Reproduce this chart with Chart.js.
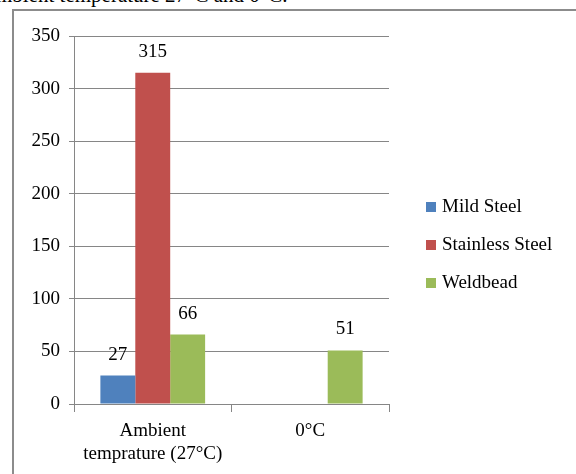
<!DOCTYPE html>
<html>
<head>
<meta charset="utf-8">
<script src="https://cdn.jsdelivr.net/npm/chart.js@4/dist/chart.umd.min.js"></script>
<style>
  html, body { margin: 0; padding: 0; background: #fff; overflow: hidden; }
  body { width: 576px; height: 474px; position: relative; }
  #caption {
    position: absolute; left: -4px; top: -17px; white-space: nowrap;
    font: 21px "Liberation Serif", serif; color: #000;
  }
  #frame {
    position: absolute; left: 12px; top: 9px; width: 600px; height: 500px;
    border: 2px solid #8c8c8c; box-sizing: border-box;
  }
  #wrap { position: absolute; left: 0; top: 0; width: 576px; height: 474px; }
</style>
</head>
<body>
<div id="caption">mbient temperature 27°C and 0°C.</div>
<div id="frame"></div>
<div id="wrap"><canvas id="chart"></canvas></div>
<script>
// categories and series
const categories = [[`Ambient`, `temprature (27°C)`], `0°C`];
const seriesNames = [`Mild Steel`, `Stainless Steel`, `Weldbead`];
const mildSteel = [27, null];
const stainlessSteel = [315, null];
const weldbead = [66, 51];
const seriesColors = [`#4f81bd`, `#c0504d`, `#9bbb59`];
const yTicks = [0, 50, 100, 150, 200, 250, 300, 350];

const serif = `"Liberation Serif", "Times New Roman", serif`;

// value labels above each bar
const valueLabels = {
    id: `valueLabels`,
    afterDatasetsDraw(chart) {
        const ctx = chart.ctx;
        ctx.save();
        ctx.font = `19px ${serif}`;
        ctx.fillStyle = `#000`;
        ctx.textAlign = `center`;
        ctx.textBaseline = `middle`;
        chart.data.datasets.forEach((ds, i) => {
            chart.getDatasetMeta(i).data.forEach((bar, j) => {
                if (ds.data[j] == null) return;
                ctx.fillText(String(ds.data[j]), bar.x, bar.y - 21);
            });
        });
        ctx.restore();
    }
};

// legend drawn on the right side
const sideLegend = {
    id: `sideLegend`,
    afterDraw(chart) {
        const ctx = chart.ctx;
        ctx.save();
        ctx.font = `19px ${serif}`;
        ctx.textBaseline = `middle`;
        chart.data.datasets.forEach((ds, i) => {
            const y = 207 + i * 38;
            ctx.fillStyle = ds.backgroundColor;
            ctx.fillRect(426, y - 5, 10, 10);
            ctx.fillStyle = `#000`;
            ctx.fillText(ds.label, 442, y);
        });
        ctx.restore();
    }
};

const datasets = [mildSteel, stainlessSteel, weldbead].map((values, i) => ({
    label: seriesNames[i],
    data: values,
    backgroundColor: seriesColors[i],
    borderWidth: 0,
    barPercentage: 1,
    categoryPercentage: 0.665
}));

new Chart(document.getElementById(`chart`), {
    type: `bar`,
    data: { labels: categories, datasets },
    options: {
        animation: false,
        responsive: true,
        maintainAspectRatio: false,
        layout: { padding: { left: 0, right: 187, top: 36, bottom: 0 } },
        plugins: {
            legend: { display: false },
            tooltip: { enabled: false }
        },
        scales: {
            x: {
                offset: true,
                afterFit: scale => { scale.height = 70; },
                grid: { drawOnChartArea: false, drawTicks: true, tickLength: 8, color: `#868686`, lineWidth: 1 },
                border: { display: true, color: `#868686` },
                ticks: { color: `#000`, padding: 8, maxRotation: 0, font: { family: serif, size: 19, lineHeight: 1.2 } }
            },
            y: {
                min: 0,
                max: 350,
                afterFit: scale => { scale.width = 74; },
                afterBuildTicks: scale => { scale.ticks = yTicks.map(v => ({ value: v })); },
                grid: { color: `#868686`, lineWidth: 1, drawTicks: true, tickLength: 5 },
                border: { display: true, color: `#868686` },
                ticks: { color: `#000`, padding: 9, font: { family: serif, size: 19 } }
            }
        }
    },
    plugins: [valueLabels, sideLegend]
});
</script>
</body>
</html>
